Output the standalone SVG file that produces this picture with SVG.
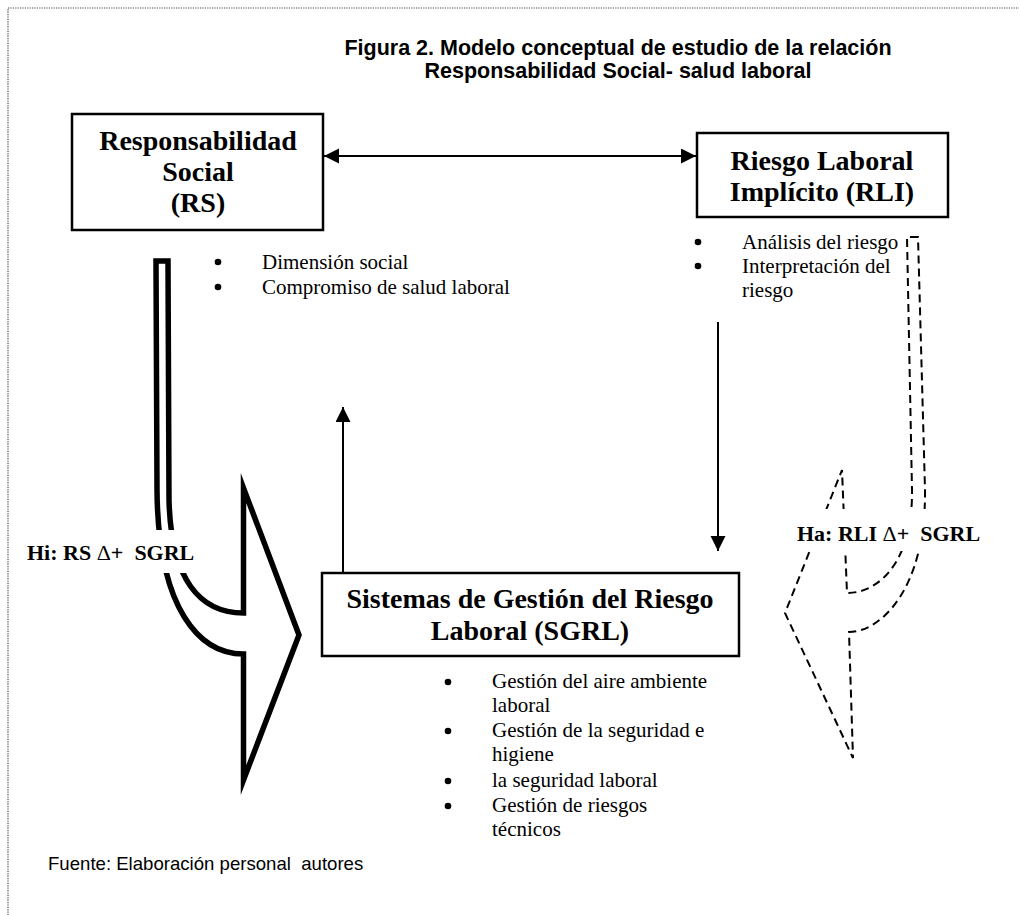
<svg xmlns="http://www.w3.org/2000/svg" width="1019" height="915" viewBox="0 0 1019 915">
<style>
.title{font-family:"Liberation Sans",Arial,sans-serif;font-weight:bold;font-size:21.5px;fill:#000;text-anchor:middle}
.box{fill:#fff;stroke:#000;stroke-width:2.5}
.bt{font-family:"Liberation Serif","Times New Roman",serif;font-weight:bold;font-size:28px;fill:#000;text-anchor:middle}
.bl{font-family:"Liberation Serif","Times New Roman",serif;font-size:21px;fill:#000}
.lab{font-family:"Liberation Serif","Times New Roman",serif;font-weight:bold;font-size:22px;fill:#000}
.src{font-family:"Liberation Sans",Arial,sans-serif;font-size:18.6px;fill:#000}
.conn{stroke:#000;stroke-width:2;fill:none}
.big{fill:#fff;stroke:#000;stroke-width:5.5;stroke-linejoin:miter;stroke-miterlimit:10}
.dash{fill:none;stroke:#000;stroke-width:2;stroke-dasharray:8 5}
</style>
<defs>
<marker id="ah" markerUnits="userSpaceOnUse" markerWidth="16" markerHeight="16" refX="15" refY="7.5" orient="auto-start-reverse">
<path d="M0,0 L15,7.5 L0,15 Z" fill="#000"/>
</marker>
</defs>
<rect width="1019" height="915" fill="#fff"/>
<path d="M8,920 V8 H1030" fill="none" stroke="#444" stroke-width="1.2" stroke-dasharray="1.2 1.2"/>
<text class="title" x="618" y="55">Figura 2. Modelo conceptual de estudio de la relación</text>
<text class="title" x="618" y="78">Responsabilidad Social- salud laboral</text>

<g id="hi-arrow">
<path class="big" d="M168,261 L156,261 L157,490 C158,610 200,654 243.5,654 L243.5,780 L299,635 L243.5,488 L243.5,613 C200,613 171,580 169,500 Z"/>
<rect x="20" y="530" width="185" height="43" fill="#fff"/>
<text class="lab" x="27" y="560" xml:space="preserve">Hi: RS <tspan font-weight="normal">Δ</tspan>+  SGRL</text>
</g>

<g id="ha-arrow">
<path class="dash" d="M918,237 L907,237 L912,490 C913,560 880,593 847,593 L842,470 L785,613 L853,758 L849,632 C880,632 926,590 925,490 Z"/>
<rect x="793" y="509" width="197" height="42" fill="#fff"/>
<text class="lab" x="797" y="541" xml:space="preserve">Ha: RLI <tspan font-weight="normal">Δ</tspan>+  SGRL</text>
</g>

<g id="connectors">
<line class="conn" x1="324" y1="156" x2="696" y2="156" marker-start="url(#ah)" marker-end="url(#ah)"/>
<line class="conn" x1="343" y1="573" x2="343" y2="407" marker-end="url(#ah)"/>
<line class="conn" x1="718" y1="322" x2="718" y2="551" marker-end="url(#ah)"/>
</g>

<g id="rs">
<rect class="box" x="72" y="114" width="251" height="116"/>
<text class="bt" x="198" y="150">Responsabilidad</text>
<text class="bt" x="198" y="181">Social</text>
<text class="bt" x="198" y="212">(RS)</text>
<circle cx="218" cy="262" r="3.3"/>
<text class="bl" x="262" y="269">Dimensión social</text>
<circle cx="218" cy="287" r="3.3"/>
<text class="bl" x="262" y="294">Compromiso de salud laboral</text>
</g>

<g id="rli">
<rect class="box" x="697" y="133" width="251" height="84"/>
<text class="bt" x="822" y="170">Riesgo Laboral</text>
<text class="bt" x="822" y="201">Implícito (RLI)</text>
<circle cx="698" cy="242" r="3.3"/>
<text class="bl" x="742" y="249">Análisis del riesgo</text>
<circle cx="698" cy="266" r="3.3"/>
<text class="bl" x="742" y="273">Interpretación del</text>
<text class="bl" x="742" y="297">riesgo</text>
</g>

<g id="sgrl">
<rect class="box" x="322" y="573" width="417" height="83"/>
<text class="bt" x="530" y="608">Sistemas de Gestión del Riesgo</text>
<text class="bt" x="530" y="640">Laboral (SGRL)</text>
<circle cx="448" cy="682" r="3.3"/>
<text class="bl" x="492" y="688">Gestión del aire ambiente</text>
<text class="bl" x="492" y="712">laboral</text>
<circle cx="448" cy="731" r="3.3"/>
<text class="bl" x="492" y="737">Gestión de la seguridad e</text>
<text class="bl" x="492" y="761">higiene</text>
<circle cx="448" cy="781" r="3.3"/>
<text class="bl" x="492" y="787">la seguridad laboral</text>
<circle cx="448" cy="806" r="3.3"/>
<text class="bl" x="492" y="812">Gestión de riesgos</text>
<text class="bl" x="492" y="836">técnicos</text>
</g>

<text class="src" x="48" y="870" xml:space="preserve">Fuente: Elaboración personal  autores</text>
</svg>
